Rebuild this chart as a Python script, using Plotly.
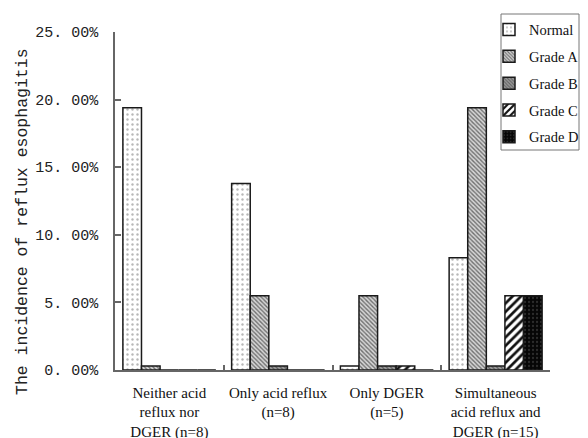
import plotly.graph_objects as go

categories = ["Neither acid<br>reflux nor<br>DGER (n=8)", "Only acid reflux<br>(n=8)",
              "Only DGER<br>(n=5)", "Simultaneous<br>acid reflux and<br>DGER (n=15)"]
normal = [19.4, 13.8, 0.3, 8.3]
grade_a = [0.3, 5.5, 5.5, 19.4]
grade_b = [0.0, 0.3, 0.3, 0.3]
grade_c = [0.0, 0.0, 0.3, 5.5]
grade_d = [0.0, 0.0, 0.0, 5.5]
series_names = ["Normal", "Grade A", "Grade B", "Grade C", "Grade D"]
tick_vals = [0, 5, 10, 15, 20, 25]
tick_text = ["0. 00%", "5. 00%", "10. 00%", "15. 00%", "20. 00%", "25. 00%"]
y_title = "The incidence of reflux esophagitis"

# page body has an 8px margin; plot area in screen px: x 115..550, y 32..370
W, H = 588, 438
PX0, PX1, PY0, PY1 = 115, 550, 32, 370
def px(sx):
    return (sx - PX0) / (PX1 - PX0)
def py(sy):
    return (PY1 - sy) / (PY1 - PY0)

patterns = [
    dict(shape=".", bgcolor="#ffffff", fgcolor="#b8b8b8", size=5, solidity=0.18, fillmode="replace"),
    dict(shape="\\", bgcolor="#d6d6d6", fgcolor="#707070", size=3, solidity=0.45, fillmode="replace"),
    dict(shape="\\", bgcolor="#9a9a9a", fgcolor="#5c5c5c", size=3, solidity=0.4, fillmode="replace"),
    dict(shape="/", bgcolor="#ffffff", fgcolor="#111111", size=6, solidity=0.45, fillmode="replace"),
    dict(shape=".", bgcolor="#060606", fgcolor="#2c2c2c", size=4, solidity=0.25, fillmode="replace"),
]

fig = go.Figure()
for i, (name, vals) in enumerate(zip(series_names, [normal, grade_a, grade_b, grade_c, grade_d])):
    fig.add_trace(go.Bar(
        x=categories, y=vals, name=name, legendgroup=name,
        marker=dict(pattern=patterns[i], line=dict(color="#1a1a1a", width=1.5)),
    ))

fig.update_layout(
    width=W, height=H,
    margin=dict(l=PX0 - 8, r=W - (PX1 - 8), t=PY0 - 8, b=H - (PY1 - 8), autoexpand=False),
    paper_bgcolor="white", plot_bgcolor="white",
    barmode="group", bargap=0.145, bargroupgap=0,
    showlegend=True,
    legend=dict(
        x=px(489), y=py(13.5), xanchor="left", yanchor="top",
        font=dict(family="Liberation Serif", size=14.5, color="#111"),
        borderwidth=0, bgcolor="rgba(0,0,0,0)",
        tracegroupgap=5, traceorder="grouped", itemwidth=30,
    ),
    shapes=[dict(
        type="rect", xref="paper", yref="paper",
        x0=px(501), x1=px(579), y0=py(150), y1=py(14),
        line=dict(color="#777", width=1), fillcolor="rgba(0,0,0,0)", layer="above",
    )],
    xaxis=dict(
        showline=True, linecolor="#666", linewidth=1.5,
        ticks="inside", tickson="boundaries", ticklen=5, tickcolor="#666", tickwidth=1.5,
        tickfont=dict(family="Liberation Serif", size=15, color="#111"),
        ticklabelstandoff=8,
    ),
    yaxis=dict(
        range=[0, 25], tickvals=tick_vals, ticktext=tick_text,
        showline=True, linecolor="#666", linewidth=1.5,
        ticks="inside", ticklen=6, tickcolor="#666", tickwidth=1.5,
        showgrid=False, zeroline=False,
        tickfont=dict(family="Liberation Mono", size=15, color="#222"),
        ticklabelstandoff=12,
    ),
    annotations=[dict(
        text=y_title, textangle=-90, xref="paper", yref="paper",
        x=px(22), y=py(222), xanchor="center", yanchor="middle",
        showarrow=False, font=dict(family="Liberation Mono", size=16.5, color="#222"),
    )],
)

fig.write_html("out.html")
